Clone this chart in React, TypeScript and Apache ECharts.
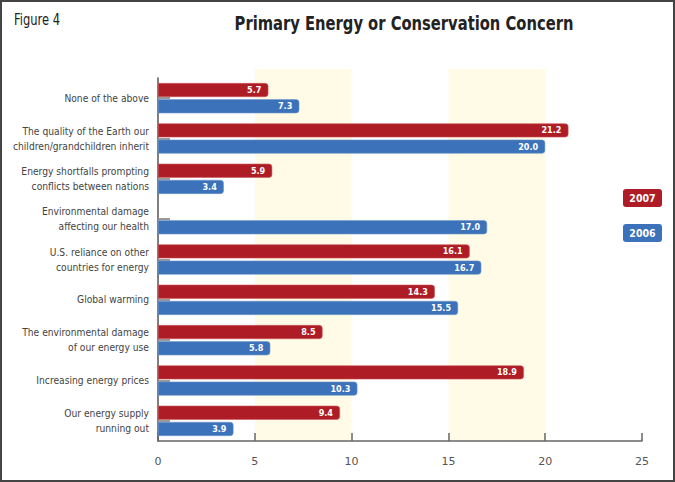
import React, { useEffect, useRef } from "react";
import * as echarts from "echarts";

const categories = [
  "None of the above",
  "The quality of the Earth our\nchildren/grandchildren inherit",
  "Energy shortfalls prompting\nconflicts between nations",
  "Environmental damage\naffecting our health",
  "U.S. reliance on other\ncountries for energy",
  "Global warming",
  "The environmental damage\nof our energy use",
  "Increasing energy prices",
  "Our energy supply\nrunning out",
];
const values2007: (number | null)[] = [5.7, 21.2, 5.9, null, 16.1, 14.3, 8.5, 18.9, 9.4];
const values2006: number[] = [7.3, 20.0, 3.4, 17.0, 16.7, 15.5, 5.8, 10.3, 3.9];
const xTicks = { min: 0, max: 25, interval: 5 };

const RED = "#ae1d25";
const BLUE = "#3b72b9";
const COND = "'DejaVu Sans Condensed', 'Liberation Sans', sans-serif";

export default function App() {
  const ref = useRef<HTMLDivElement>(null);
  useEffect(() => {
    document.body.style.margin = "0";
    const chart = echarts.init(ref.current!, null, { renderer: "svg" });
    const label = {
      show: true,
      position: "insideRight" as const,
      distance: 7,
      color: "#fff",
      fontWeight: "bold" as const,
      fontSize: 9,
      fontFamily: COND,
      formatter: (p: any) => (p.value == null ? "" : Number(p.value).toFixed(1)),
    };
    chart.setOption({
      animation: false,
      backgroundColor: "#fff",
      grid: [
        { left: 158, right: 33, top: 78, bottom: 41, outerBoundsMode: "none", containLabel: false },
        { left: 158, right: 33, top: 69, bottom: 41, outerBoundsMode: "none", containLabel: false },
      ],
      xAxis: [
        {
          type: "value",
          gridIndex: 0,
          ...xTicks,
          axisLine: { show: true, lineStyle: { color: "#666", width: 1.5 } },
          axisTick: { show: true, inside: true, length: 8, lineStyle: { color: "#666", width: 1.5 } },
          axisLabel: { color: "#555", fontSize: 11, margin: 15, fontFamily: "'DejaVu Sans', sans-serif" },
          splitLine: { show: false },
        },
        {
          type: "value",
          gridIndex: 1,
          ...xTicks,
          axisLine: { show: false },
          axisTick: { show: false },
          axisLabel: { show: false },
          splitLine: { show: false },
          splitArea: { show: true, areaStyle: { color: ["rgba(255,255,255,0)", "#fffbe6"] } },
        },
      ],
      yAxis: [
        {
          type: "category",
          gridIndex: 0,
          data: categories,
          inverse: true,
          axisLine: { show: true, lineStyle: { color: "#555", width: 1.5 } },
          axisTick: { show: true, inside: true, length: 12, alignWithLabel: true, lineStyle: { color: "#999", width: 2 } },
          axisLabel: {
            color: "#444",
            fontSize: 10.2,
            lineHeight: 15,
            margin: 9,
            align: "right",
            fontFamily: COND,
          },
        },
        {
          type: "value",
          gridIndex: 1,
          show: false,
        },
      ],
      series: [
        {
          name: "2007",
          type: "bar",
          xAxisIndex: 0,
          yAxisIndex: 0,
          data: values2007,
          barWidth: 14,
          barGap: "16%",
          itemStyle: { color: RED, borderRadius: [0, 3, 3, 0], borderColor: "#c9585e", borderWidth: 0.6 },
          label,
        },
        {
          name: "2006",
          type: "bar",
          xAxisIndex: 0,
          yAxisIndex: 0,
          data: values2006,
          barWidth: 14,
          itemStyle: { color: BLUE, borderRadius: [0, 3, 3, 0], borderColor: "#6f97cc", borderWidth: 0.6 },
          label,
        },
      ],
      graphic: [
        {
          type: "rect",
          shape: { x: 1, y: 1, width: 673, height: 480 },
          style: { fill: "none", stroke: "#444", lineWidth: 2 },
          silent: true,
        },
        {
          type: "text",
          x: 14,
          y: 19,
          scaleX: 0.8,
          style: { text: "Figure 4", fontSize: 16, fill: "#222", fontFamily: COND, verticalAlign: "middle" },
        },
        {
          type: "text",
          x: 404,
          y: 23,
          scaleX: 0.82,
          style: {
            text: "Primary Energy or Conservation Concern",
            fontSize: 20,
            fontWeight: "bold",
            fill: "#222",
            fontFamily: COND,
            align: "center",
            verticalAlign: "middle",
          },
        },
        {
          type: "group",
          children: [
            { type: "rect", shape: { x: 623, y: 189, width: 39, height: 18, r: 3 }, style: { fill: RED } },
            {
              type: "text",
              x: 642.5,
              y: 198,
              style: { text: "2007", fill: "#fff", fontWeight: "bold", fontSize: 10.5, align: "center", verticalAlign: "middle", fontFamily: COND },
            },
            { type: "rect", shape: { x: 623, y: 224, width: 39, height: 18, r: 3 }, style: { fill: BLUE } },
            {
              type: "text",
              x: 642.5,
              y: 233,
              style: { text: "2006", fill: "#fff", fontWeight: "bold", fontSize: 10.5, align: "center", verticalAlign: "middle", fontFamily: COND },
            },
          ],
        },
      ],
    });
    return () => chart.dispose();
  }, []);
  return <div ref={ref} style={{ width: 675, height: 482 }} />;
}
